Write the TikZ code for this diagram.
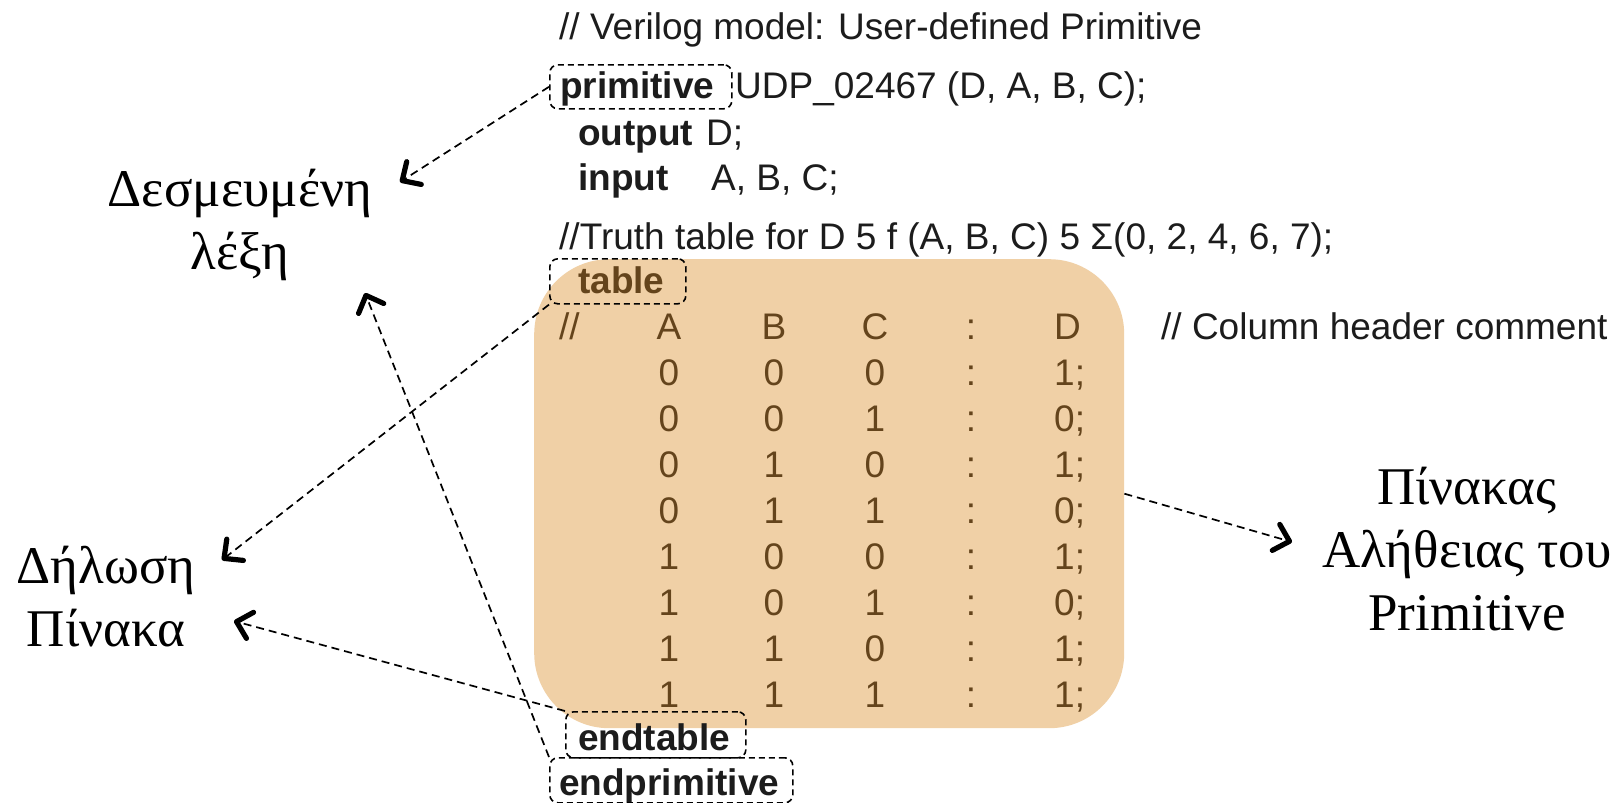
\documentclass[tikz,border=0pt]{standalone}
\usepackage{fontspec}
\setmainfont{Liberation Serif}
\setsansfont{Liberation Sans}
\usetikzlibrary{arrows.meta}

\definecolor{codeink}{RGB}{28,28,28}
\definecolor{tablefill}{RGB}{240,208,166}
\definecolor{tableink}{RGB}{100,68,28}

\newcommand{\codefont}{\sffamily\fontsize{37}{46}\selectfont}
\newcommand{\labelfont}{\rmfamily\fontsize{53}{63}\selectfont}

\begin{document}
\begin{tikzpicture}[x=1pt,y=-1pt,
  code/.style={anchor=base west, inner sep=0pt, font=\codefont, text=codeink},
  kw/.style={code, font=\codefont\bfseries},
  cell/.style={anchor=base, inner sep=0pt, font=\codefont, text=tableink},
  cellw/.style={anchor=base west, inner sep=0pt, font=\codefont, text=tableink},
  kwbox/.style={draw=black, line width=1.6pt, dash pattern=on 6pt off 4pt,
    rounded corners=8pt, anchor=north west, inner sep=0pt},
  lbl/.style={font=\labelfont, align=center, inner sep=0pt, text=black},
  pointer/.style={draw=black, line width=1.7pt, dash pattern=on 8pt off 5pt,
    -{Straight Barb[length=14pt,width=27pt,line width=5.2pt,round]}}
]
\useasboundingbox (0,0) rectangle (1623,803);
\fill[white] (0,0) rectangle (1623,803);

% shaded truth-table panel
\node[fill=tablefill, rounded corners=75pt, minimum width=590pt, minimum height=469pt,
  anchor=north west, inner sep=0pt] (panel) at (534,259) {};

% source lines
\node[code] (head) at (559,39) {// Verilog model: User-defined Primitive};
\node[kw] (kwprim) at (560,98) {primitive};
\node[code] (udp) at (735,98) {UDP\_02467 (D, A, B, C);};
\node[kw] (kwout) at (578,145) {output};
\node[code] (outd) at (706,145) {D;};
\node[kw] (kwin) at (578,190) {input};
\node[code] (ins) at (711,190) {A, B, C;};
\node[code] (truth) at (559,249) {//Truth table for D 5 f (A, B, C) 5 Σ(0, 2, 4, 6, 7);};
\node[kw, text=tableink] (kwtable) at (578,293) {table};

% column header
\node[cellw] (hc) at (559,339) {//};
\node[cell] (ha) at (669,339) {A};
\node[cell] (hb) at (774,339) {B};
\node[cell] (hcc) at (875,339) {C};
\node[cell] (hcol) at (971,339) {:};
\node[cellw] (hd) at (1054,339) {D};
\node[code] (colcmt) at (1161,339) {// Column header comment};

% table rows
\foreach \a/\b/\c/\d [count=\i from 0] in
  {0/0/0/1,0/0/1/0,0/1/0/1,0/1/1/0,1/0/0/1,1/0/1/0,1/1/0/1,1/1/1/1}{
  \pgfmathsetmacro{\yy}{385+46*\i}
  \node[cell] (ra\i) at (669,\yy) {\a};
  \node[cell] (rb\i) at (774,\yy) {\b};
  \node[cell] (rc\i) at (875,\yy) {\c};
  \node[cell] (rs\i) at (971,\yy) {:};
  \node[cellw] (rd\i) at (1054,\yy) {\d;};
}

\node[kw] (kwendt) at (578,750) {endtable};
\node[kw] (kwendp) at (559,795) {endprimitive};

% dashed keyword frames
\node[kwbox, minimum width=182pt, minimum height=44pt] (bprim) at (549,64) {};
\node[kwbox, minimum width=136pt, minimum height=45pt] (btable) at (549,258) {};
\node[kwbox, minimum width=180pt, minimum height=46pt] (bendt) at (565,711) {};
\node[kwbox, minimum width=243pt, minimum height=45pt] (bendp) at (549,757) {};

% explanatory labels
\node[lbl] (lres) at (240,225) {Δεσμευμένη\\λέξη};
\node[lbl] (ldecl) at (106,597) {Δήλωση\\Πίνακα};
\node[lbl] (ltruth) at (1467,549) {Πίνακας\\Αλήθειας του\\Primitive};

% arrow ends next to the labels
\coordinate (pres) at (400,182);
\coordinate (pres2) at (365,293);
\coordinate (pdecl) at (222,560);
\coordinate (pdecl2) at (234,621);
\coordinate (ptruth) at (1292,542);

\draw[pointer] (bprim.west) -- (pres);
\draw[pointer] (btable.south west) -- (pdecl);
\draw[pointer] (bendt.north west) -- (pdecl2);
\draw[pointer] (bendp.north west) -- (pres2);
\draw[pointer] (panel.east) -- (ptruth);
\end{tikzpicture}
\end{document}
